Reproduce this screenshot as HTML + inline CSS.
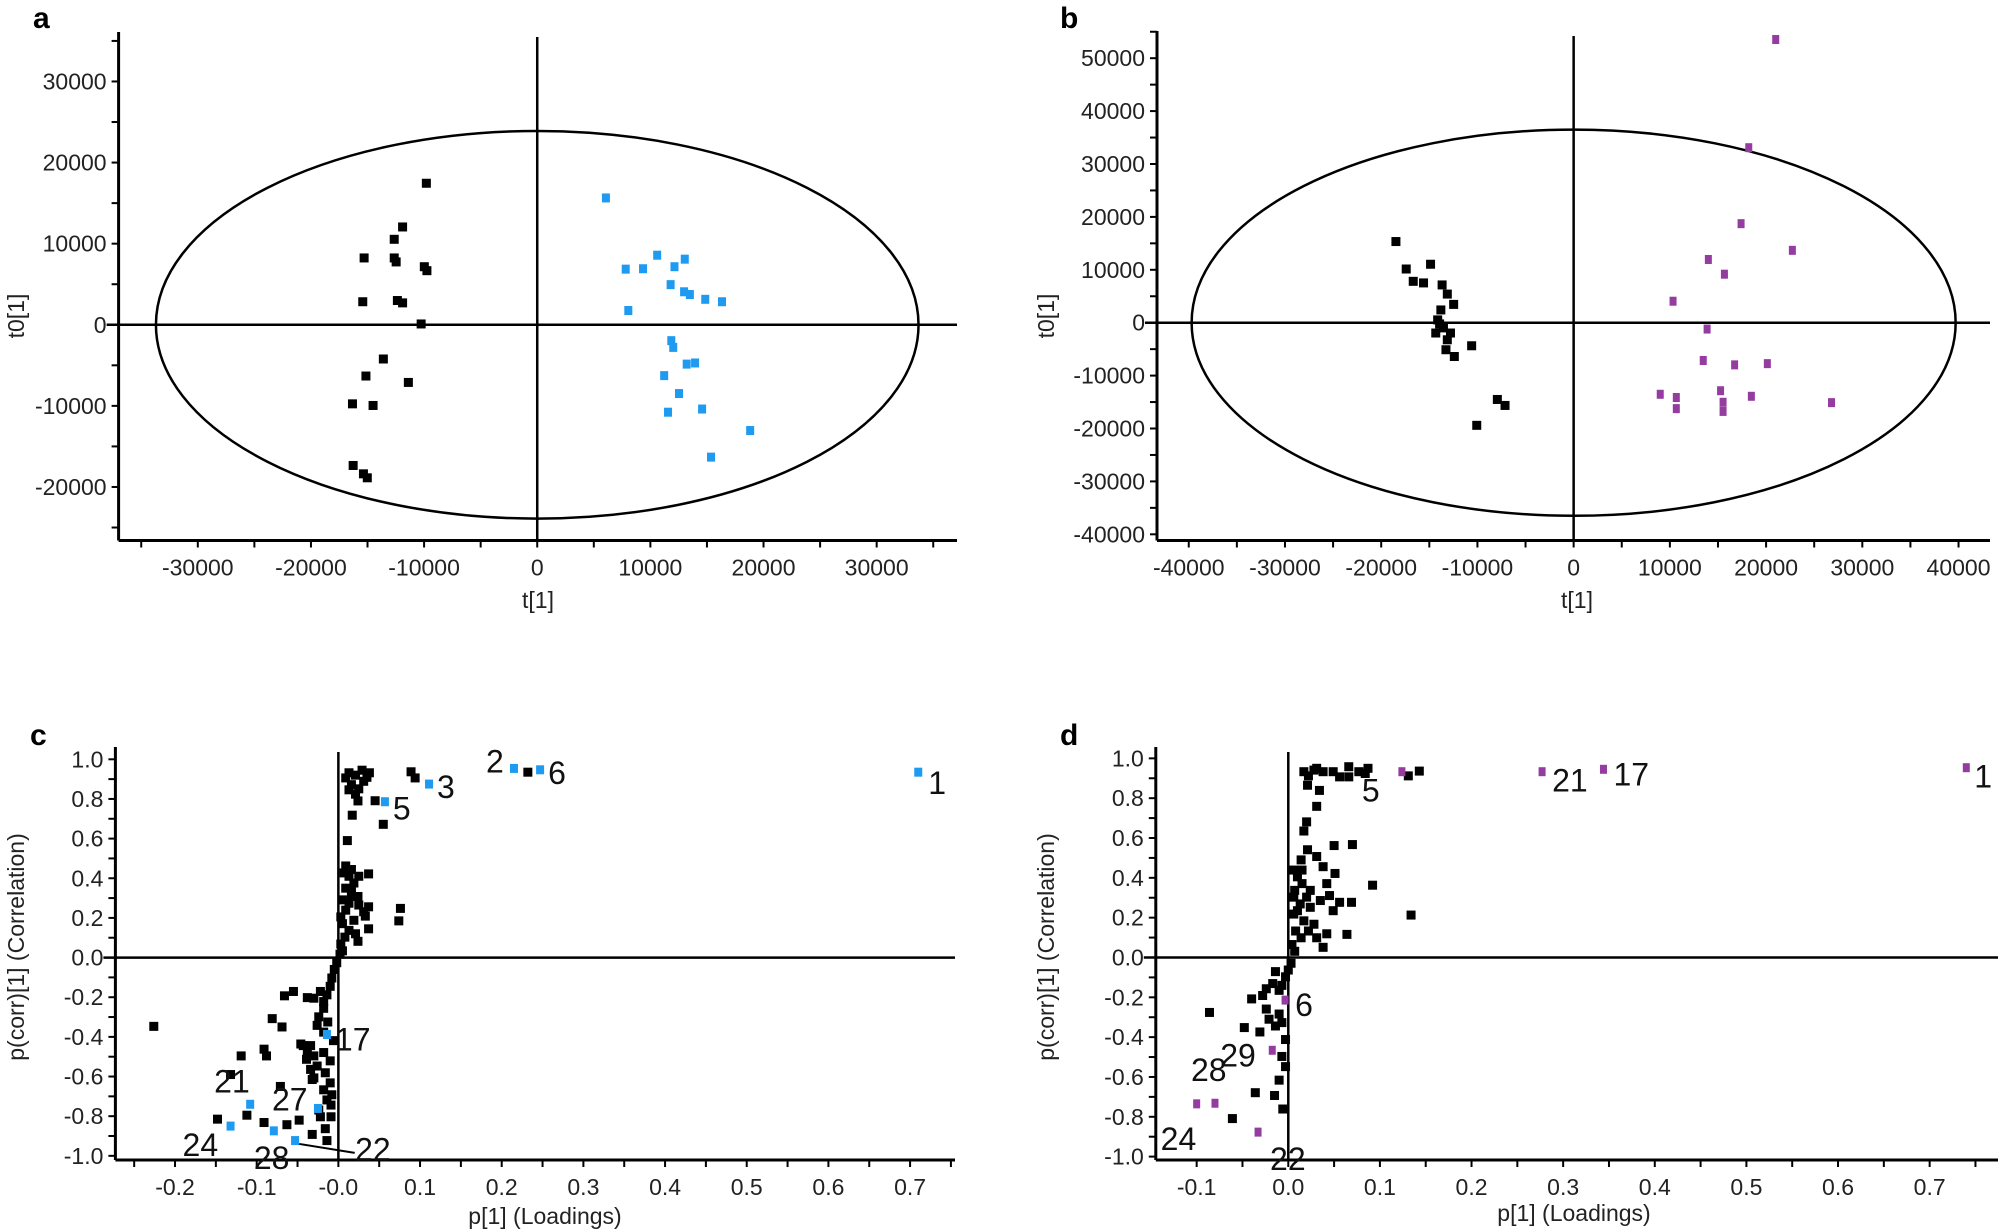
<!DOCTYPE html>
<html><head><meta charset="utf-8"><style>
html,body{margin:0;padding:0;background:#fff;}
svg{display:block;font-family:"Liberation Sans",Arial,sans-serif;}
</style></head><body>
<svg id="fig" width="1998" height="1229" viewBox="0 0 1998 1229" xmlns="http://www.w3.org/2000/svg">
<text x="33" y="28" font-size="30" font-weight="bold">a</text>
<text x="1060" y="28" font-size="30" font-weight="bold">b</text>
<text x="30" y="745" font-size="30" font-weight="bold">c</text>
<text x="1060" y="745" font-size="30" font-weight="bold">d</text>
</svg>
<script>
// ---------- data ----------
const aBlackX=[-9800,-11900,-12640,-15300,-12640,-12470,-9980,-9750,-15420,-12360,-11900,-10260,-13600,-15140,-11390,-16330,-14510,-16270,-15360,-15020];
const aBlackY=[17450,12060,10540,8240,8240,7750,7160,6670,2840,2990,2700,100,-4220,-6320,-7110,-9750,-9950,-17350,-18380,-18870];
const aBlueX=[6070,7820,9350,10600,13040,12130,11790,12980,13490,14850,16330,8050,11850,12020,13210,13950,11220,12530,14570,11560,18820,15360];
const aBlueY=[15640,6860,6910,8580,8090,7160,4950,4070,3730,3140,2840,1760,-1960,-2790,-4850,-4710,-6270,-8480,-10390,-10780,-13040,-16320];
const aXTicks=[-30000,-20000,-10000,0,10000,20000,30000];
const aYTicks=[-20000,-10000,0,10000,20000,30000];

const bBlackX=[-18470,-17400,-16670,-15600,-14870,-13670,-13130,-12470,-13800,-14130,-13930,-13530,-14330,-12800,-13130,-13270,-12400,-10600,-7930,-7130,-10070];
const bBlackY=[15340,10150,7820,7520,11050,7140,5410,3460,2410,530,-230,-980,-1950,-1950,-3230,-5110,-6390,-4360,-14510,-15640,-19400];
const bPurpleX=[21000,18200,17400,22730,14000,15670,10330,13870,13470,16730,20130,9000,10670,10670,15270,15530,15530,18470,26800];
const bPurpleY=[53530,33080,18720,13680,11950,9170,4060,-1200,-7140,-7970,-7740,-13530,-14140,-16240,-12860,-15040,-16770,-13910,-15110];
const bXTicks=[-40000,-30000,-20000,-10000,0,10000,20000,30000,40000];
const bYTicks=[-40000,-30000,-20000,-10000,0,10000,20000,30000,40000,50000];

const cBlackX=[-0.226,0.017,0.045,0.055,0.011,0.037,0.076,0.074,0.037,0.024,0.033,0.089,0.094,0.232,
0.013,0.021,0.029,0.038,0.016,0.025,0.013,0.031,0.021,0.035,0.009,0.024,
0.009,0.016,0.013,0.019,0.009,0.016,0.005,0.013,0.025,0.037,0.031,0.009,0.019,0.005,0.013,0.008,0.021,0.003,0.005,0.002,0.016,0.024,0.003,0.007,0.025,
-0.002,-0.005,-0.008,-0.010,-0.014,-0.018,-0.022,-0.030,-0.038,-0.018,-0.024,-0.013,-0.026,-0.018,-0.006,-0.034,-0.043,-0.030,-0.018,-0.010,-0.026,-0.016,-0.030,-0.010,-0.018,-0.008,-0.014,-0.022,-0.009,-0.016,-0.014,-0.009,
-0.066,-0.055,-0.081,-0.069,-0.091,-0.088,-0.119,-0.132,-0.071,-0.112,-0.148,-0.091,-0.063,-0.048,-0.032,-0.046,-0.038,-0.039,-0.034,-0.032,-0.024];
const cBlackY=[-0.347,0.718,0.791,0.672,0.590,0.422,0.248,0.185,0.145,0.082,0.209,0.937,0.906,0.935,
0.932,0.920,0.945,0.932,0.872,0.851,0.846,0.889,0.824,0.909,0.906,0.790,
0.462,0.444,0.410,0.376,0.350,0.316,0.291,0.274,0.265,0.256,0.231,0.239,0.188,0.171,0.137,0.103,0.120,0.068,0.034,0.017,0.342,0.308,0.205,0.427,0.410,
-0.026,-0.060,-0.103,-0.145,-0.188,-0.222,-0.171,-0.205,-0.202,-0.256,-0.299,-0.325,-0.342,-0.376,-0.419,-0.444,-0.444,-0.496,-0.479,-0.521,-0.547,-0.581,-0.607,-0.632,-0.667,-0.692,-0.718,-0.803,-0.803,-0.863,-0.923,-0.744,
-0.193,-0.171,-0.308,-0.350,-0.462,-0.496,-0.496,-0.590,-0.650,-0.795,-0.815,-0.832,-0.843,-0.820,-0.892,-0.436,-0.479,-0.513,-0.564,-0.615,-0.769];
const cBlueX=[0.710,0.215,0.247,0.111,0.057,-0.014,-0.108,-0.025,-0.132,-0.079,-0.053];
const cBlueY=[0.935,0.954,0.947,0.875,0.786,-0.388,-0.740,-0.761,-0.850,-0.874,-0.923];
const cBlueLabels=["1","2","6","3","5","17","21","27","24","28","22"];
const cXTicks=[-0.2,-0.1,0,0.1,0.2,0.3,0.4,0.5,0.6,0.7];
const cXTickLabels=["-0.2","-0.1","-0.0","0.1","0.2","0.3","0.4","0.5","0.6","0.7"];
const cYTicks=[-1,-0.8,-0.6,-0.4,-0.2,0,0.2,0.4,0.6,0.8,1];
const cYTickLabels=["-1.0","-0.8","-0.6","-0.4","-0.2","0.0","0.2","0.4","0.6","0.8","1.0"];

const dBlackX=[0.143,0.131,0.087,0.084,0.066,0.066,0.056,0.049,0.038,0.028,0.017,0.021,0.034,0.031,0.020,0.017,0.050,0.070,0.092,0.134,0.064,0.042,0.038,0.038,0.051,0.049,0.056,0.069,0.042,0.045,0.077,0.022,0.031,
0.006,0.010,0.015,0.007,0.020,0.013,0.024,0.006,0.017,0.028,0.008,0.014,0.004,0.007,0.021,0.031,0.014,0.024,0.035,0.010,0.022,0.031,0.006,0.015,
0.003,0.000,-0.003,-0.007,-0.014,-0.010,-0.017,-0.024,-0.028,-0.040,-0.086,-0.024,-0.010,-0.021,-0.007,-0.048,-0.031,-0.007,-0.003,-0.010,-0.015,-0.036,-0.061,-0.006,-0.003,-0.014];
const dBlackY=[0.936,0.912,0.950,0.924,0.958,0.907,0.907,0.933,0.933,0.941,0.933,0.865,0.839,0.759,0.681,0.635,0.562,0.567,0.363,0.213,0.116,0.119,0.051,0.456,0.422,0.235,0.277,0.277,0.371,0.311,0.933,0.912,0.950,
0.439,0.405,0.371,0.337,0.303,0.269,0.252,0.218,0.184,0.167,0.133,0.099,0.065,0.031,0.541,0.507,0.490,0.337,0.286,0.235,0.133,0.099,0.303,0.439,
-0.029,-0.063,-0.097,-0.140,-0.071,-0.165,-0.131,-0.157,-0.191,-0.208,-0.276,-0.259,-0.284,-0.310,-0.327,-0.352,-0.374,-0.497,-0.548,-0.616,-0.693,-0.679,-0.809,-0.761,-0.412,-0.344];
const dPurpleX=[0.740,0.344,0.277,0.124,-0.0035,-0.0175,-0.080,-0.100,-0.033];
const dPurpleY=[0.953,0.945,0.933,0.933,-0.214,-0.466,-0.732,-0.735,-0.877];
const dPurpleLabels=["1","17","21","5","6","29","28","24","22"];
const dXTicks=[-0.1,0,0.1,0.2,0.3,0.4,0.5,0.6,0.7];
const dXTickLabels=["-0.1","0.0","0.1","0.2","0.3","0.4","0.5","0.6","0.7"];
const dYTicks=cYTicks;
const dYTickLabels=cYTickLabels;

// ---------- drawing ----------
const NS="http://www.w3.org/2000/svg";
const svg=document.getElementById('fig');
function mk(tag,attrs,parent){const e=document.createElementNS(NS,tag);for(const k in attrs)e.setAttribute(k,attrs[k]);(parent||svg).appendChild(e);return e;}
function scale(d0,d1,r0,r1){return v=>r0+(v-d0)/(d1-d0)*(r1-r0);}

function panel(p){
  const g=mk('g',{});
  
  
  const X=scale(p.xd[0],p.xd[1],p.L,p.R), Y=scale(p.yd[0],p.yd[1],p.B,p.T);
  for(let v=p.xMinor[0];v<=p.xMinor[1]+1e-9;v+=p.xMinor[2]){const x=X(v);const t=mk('line',{x1:x,x2:x,y1:p.B,y2:p.B+7,stroke:'#000','stroke-width':2},g);}
  for(let v=p.yMinor[0];v<=p.yMinor[1]+1e-9;v+=p.yMinor[2]){const y=Y(v);const t=mk('line',{x1:p.L-7,x2:p.L,y1:y,y2:y,stroke:'#000','stroke-width':2},g);}
  p.xt.forEach((v,i)=>{const t=mk('text',{x:X(v),y:p.B+35,'font-size':23,'text-anchor':'middle',fill:'#222'},g);t.textContent=p.xl?p.xl[i]:String(v);});
  p.yt.forEach((v,i)=>{const t=mk('text',{x:p.L-12,y:Y(v)+8,'font-size':23,'text-anchor':'end',fill:'#222'},g);t.textContent=p.yl?p.yl[i]:String(v);});
  const zh=mk('line',{x1:p.L-12,x2:p.R,y1:Y(0),y2:Y(0),stroke:'#000','stroke-width':2.5},g);
  
  const zv=mk('line',{x1:X(0),x2:X(0),y1:p.T+5,y2:p.B,stroke:'#000','stroke-width':2.5},g);
  
  if(p.ell){const e=mk('ellipse',{cx:X(0),cy:Y(0),rx:X(p.ell[0])-X(0),ry:Y(0)-Y(p.ell[1]),fill:'none',stroke:'#000','stroke-width':2.5},g);}
  const ax=mk('line',{x1:p.L,x2:p.R,y1:p.B,y2:p.B,stroke:'#000','stroke-width':3},g);
  const ay=mk('line',{x1:p.L,x2:p.L,y1:p.T,y2:p.B,stroke:'#000','stroke-width':3},g);
  const xt=mk('text',{x:p.xTitle[0],y:p.xTitle[1],'font-size':23,'text-anchor':'middle',fill:'#222'},g);xt.textContent=p.xTitle[2];
  const yt=mk('text',{x:0,y:0,'font-size':23,'text-anchor':'middle',fill:'#222',transform:`translate(${p.yTitle[0]},${p.yTitle[1]}) rotate(-90)`},g);yt.textContent=p.yTitle[2];
  p.series.forEach(s=>{
    s.x.forEach((v,i)=>{
      const r=mk('rect',{x:X(v)-s.w/2,y:Y(s.y[i])-s.h/2,width:s.w,height:s.h,fill:s.c},g);
      
      
      if(s.labels){const o=s.off[i];const t=mk('text',{x:X(v)+o[0],y:Y(s.y[i])+o[1],'font-size':32,fill:'#111'},g);t.textContent=s.labels[i];}
    });
  });
  if(p.extra)p.extra(g,X,Y);
}

panel({name:'panel-a',L:118.6,R:957,T:32,B:540.5,xd:[-37000,37100],yd:[-26600,36100],
  xMinor:[-35000,35000,5000],yMinor:[-25000,35000,5000],xt:aXTicks,yt:aYTicks,ell:[33700,23900],
  xTitle:[538,608,'t[1]'],yTitle:[24,316,'t0[1]'],
  series:[{name:'score-point-control',x:aBlackX,y:aBlackY,c:'#000',w:9,h:9},{name:'score-point-group-blue',x:aBlueX,y:aBlueY,c:'#1e9bf0',w:8,h:9}]});

panel({name:'panel-b',L:1157,R:1990,T:31,B:540.5,xd:[-43300,43270],yd:[-41170,55140],
  xMinor:[-40000,40000,5000],yMinor:[-40000,55000,5000],xt:bXTicks,yt:bYTicks,ell:[39700,36500],
  xTitle:[1577,608,'t[1]'],yTitle:[1054,316,'t0[1]'],
  series:[{name:'score-point-control',x:bBlackX,y:bBlackY,c:'#000',w:9,h:9},{name:'score-point-group-purple',x:bPurpleX,y:bPurpleY,c:'#953ca0',w:7,h:9}]});

const cOff=[[10,22],[-28,4],[8,14],[8,14],[8,18],[8,16],[-36,-12],[-46,2],[-48,30],[-20,38],[60,20]];
panel({name:'panel-c',L:115.4,R:955,T:747,B:1160,xd:[-0.273,0.755],yd:[-1.021,1.062],
  xMinor:[-0.25,0.75,0.05],yMinor:[-1,1.0001,0.1],xt:cXTicks,xl:cXTickLabels,yt:cYTicks,yl:cYTickLabels,
  xTitle:[545,1224,'p[1] (Loadings)'],yTitle:[24,947,'p(corr)[1] (Correlation)'],
  series:[{name:'loading-point',x:cBlackX,y:cBlackY,c:'#000',w:9,h:9},{name:'loading-point-highlight-blue',x:cBlueX,y:cBlueY,c:'#1e9bf0',w:8,h:9,labels:cBlueLabels,off:cOff}],
  extra:(g,X,Y)=>{const l=mk('line',{x1:X(-0.048),y1:Y(-0.94),x2:X(0.02),y2:Y(-0.985),stroke:'#000','stroke-width':2},g);}});

const dOff=[[8,20],[10,16],[10,20],[-40,30],[10,16],[-52,16],[-24,-22],[-36,46],[12,38]];
panel({name:'panel-d',L:1155.8,R:1998,T:747,B:1160,xd:[-0.1446,0.7746],yd:[-1.017,1.057],
  xMinor:[-0.1,0.75,0.05],yMinor:[-1,1.0001,0.1],xt:dXTicks,xl:dXTickLabels,yt:dYTicks,yl:dYTickLabels,
  xTitle:[1574,1221,'p[1] (Loadings)'],yTitle:[1054,947,'p(corr)[1] (Correlation)'],
  series:[{name:'loading-point',x:dBlackX,y:dBlackY,c:'#000',w:9,h:9},{name:'loading-point-highlight-purple',x:dPurpleX,y:dPurpleY,c:'#953ca0',w:7,h:9,labels:dPurpleLabels,off:dOff}]});
</script>
</body></html>
